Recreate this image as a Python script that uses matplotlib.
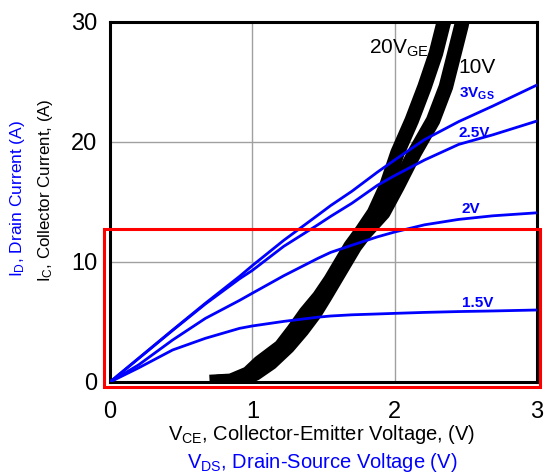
import numpy as np
import matplotlib.pyplot as plt
from matplotlib.patches import Rectangle

plt.rcParams['font.family'] = ['Liberation Sans', 'DejaVu Sans']
plt.rcParams['mathtext.fontset'] = 'custom'
plt.rcParams['mathtext.rm'] = 'Liberation Sans'
plt.rcParams['mathtext.it'] = 'Liberation Sans:italic'
plt.rcParams['mathtext.bf'] = 'Liberation Sans:bold'

# MOSFET output curves (blue): V_DS vs I_D for each V_GS
vds = [0, 0.2, 0.44, 0.67, 0.91, 1.0, 1.22, 1.46, 1.55, 1.70, 1.88, 2.0, 2.21, 2.45, 2.69, 3.0]
id_3v = [0, 1.97, 4.33, 6.56, 8.8, 9.7, 11.8, 13.9, 14.7, 15.9, 17.5, 18.5, 20.2, 21.7, 23.0, 24.75]
id_25v = [0, 1.95, 4.3, 6.5, 8.6, 9.3, 11.3, 13.1, 13.8, 14.9, 16.4, 17.2, 18.5, 19.8, 20.6, 21.75]
id_2v = [0, 1.42, 3.5, 5.3, 6.8, 7.4, 8.85, 10.3, 10.8, 11.4, 12.1, 12.5, 13.1, 13.55, 13.85, 14.1]
id_15v = [0, 1.17, 2.67, 3.64, 4.47, 4.67, 5.05, 5.4, 5.5, 5.6, 5.67, 5.72, 5.8, 5.87, 5.92, 6.0]

# IGBT output curves (black): V_CE vs I_C for each V_GE
vce_20 = [0.70, 0.85, 0.97, 1.05, 1.20, 1.29, 1.375, 1.47, 1.55, 1.62, 1.69, 1.77,
          1.855, 1.94, 2.02, 2.12, 2.21, 2.29, 2.34, 2.37]
ic_20 = [0.0, 0.1, 0.7, 1.6, 2.94, 4.33, 5.75, 7.1, 8.5, 9.9, 11.3, 12.6,
         14.1, 16.3, 19.1, 21.8, 24.6, 27.4, 29.75, 31]
vce_10 = [0.75, 0.9, 1.02, 1.13, 1.25, 1.35, 1.44, 1.51, 1.58, 1.65, 1.72, 1.79,
          1.92, 2.02, 2.14, 2.27, 2.36, 2.42, 2.47, 2.49]
ic_10 = [0.0, 0.1, 0.7, 1.6, 2.94, 4.33, 5.75, 7.1, 8.5, 9.9, 11.3, 12.4,
         14.1, 16.3, 19.1, 21.8, 24.6, 27.4, 29.75, 31]

fig = plt.figure(figsize=(5.44, 4.75), dpi=100)
ax = fig.add_axes([110 / 544, 1 - 382 / 475, (537 - 110) / 544, (382 - 22) / 475])

ax.plot(vce_20, ic_20, color='black', lw=10.5, solid_capstyle='butt', zorder=2)
ax.plot(vce_10, ic_10, color='black', lw=10.5, solid_capstyle='butt', zorder=2)

blue = '#0000ff'
for y in [id_3v, id_25v, id_2v, id_15v]:
    ax.plot(vds, y, color=blue, lw=2.0, zorder=3)

ax.set_xlim(0, 3)
ax.set_ylim(0, 30)
ax.set_xticks([0, 1, 2, 3])
ax.set_yticks([0, 10, 20, 30])
ax.tick_params(length=0, labelsize=17, pad=9)
ax.tick_params(axis='x', pad=14)
ax.grid(True, color='#a0a0a0', lw=1)
ax.set_axisbelow(True)
for s in ax.spines.values():
    s.set_linewidth(2.2)

# red box around the low-current region
ax.add_patch(Rectangle((-0.045, -0.42), 3.065, 13.17, fill=False, edgecolor='red',
                       lw=2.2, clip_on=False, zorder=5))

# curve labels
ax.text(1.82, 27.4, r'20V$_{\mathrm{GE}}$', fontsize=15, zorder=6)
ax.text(2.45, 25.75, '10V', fontsize=15, zorder=6)
ax.text(2.45, 23.7, r'3V$_{\mathbf{GS}}$', fontsize=11, color=blue, fontweight='bold', zorder=6)
ax.text(2.45, 20.4, '2.5V', fontsize=11, color=blue, fontweight='bold', zorder=6)
ax.text(2.47, 14.1, '2V', fontsize=11, color=blue, fontweight='bold', zorder=6)
ax.text(2.47, 6.25, '1.5V', fontsize=11, color=blue, fontweight='bold', zorder=6)

# axis labels
fig.text(0.033, 0.583, r'I$_{\mathrm{D}}$, Drain Current (A)', rotation=90,
         color=blue, fontsize=12.5, ha='center', va='center')
fig.text(0.083, 0.6, r'I$_{\mathrm{C}}$, Collector Current, (A)', rotation=90,
         color='black', fontsize=12.2, ha='center', va='center')
fig.text(0.592, 0.086, r'V$_{\mathrm{CE}}$, Collector-Emitter Voltage, (V)',
         color='black', fontsize=14.5, ha='center', va='center')
fig.text(0.592, 0.027, r'V$_{\mathrm{DS}}$, Drain-Source Voltage (V)',
         color=blue, fontsize=14.5, ha='center', va='center')

fig.savefig('out.png', dpi=100)
